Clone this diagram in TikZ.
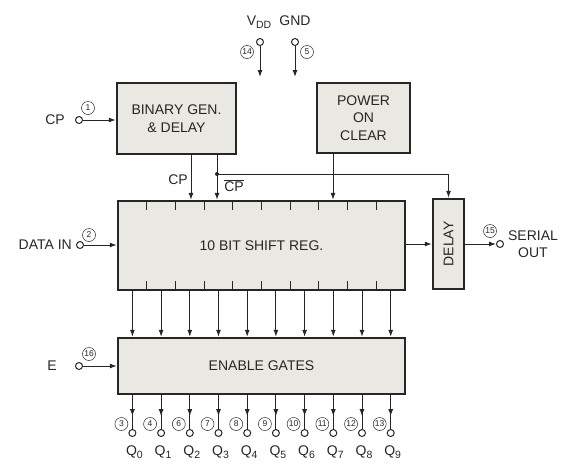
\documentclass[tikz,border=0pt]{standalone}
\usepackage{fontspec}
\setmainfont{Liberation Sans}
\usetikzlibrary{arrows.meta,decorations.markings}
\definecolor{chipgray}{RGB}{234,232,226}
\definecolor{inkdark}{RGB}{40,38,36}
\newcommand{\lowsub}[1]{\raisebox{-3.5pt}{\fontsize{10.5}{11}\selectfont #1}}

\begin{document}
\begin{tikzpicture}[x=1pt,y=-1pt, inkdark,
  block/.style={draw, line width=2.4pt, fill=chipgray, align=center, inner sep=0pt,
    font=\fontsize{14}{17.5}\selectfont},
  terminal/.style={circle, draw, line width=1pt, fill=white, inner sep=0pt, minimum size=7pt},
  pinnum/.style={circle, draw, line width=0.5pt, inner sep=0pt, minimum size=13pt,
    font=\fontsize{8.5}{9}\selectfont},
  lbl/.style={font=\fontsize{14}{16.5}\selectfont, inner sep=1pt},
  arr/.style={-{Latex[length=7pt,width=5pt]}, line width=1pt},
  midarr/.style={line width=1pt, postaction={decorate}, decoration={markings,
    mark=at position 0.62 with {\arrow{Latex[length=7pt,width=5pt]}}}}]
\useasboundingbox (0,0) rectangle (569,464);

% Blocks
\node[block, minimum width=119pt, minimum height=71pt] (bgen) at (176.5,118.5) {BINARY GEN.\\\& DELAY};
\node[block, minimum width=93pt, minimum height=70pt] (pclr) at (363.5,118) {POWER\\ON\\CLEAR};
\node[block, minimum width=287pt, minimum height=89pt] (sreg) at (261.5,245.5) {10 BIT SHIFT REG.};
\node[block, minimum width=31pt, minimum height=90pt] (dly) at (448.5,244) {\rotatebox{90}{DELAY}};
\node[block, minimum width=287pt, minimum height=56pt] (egate) at (261.5,366) {ENABLE GATES};

% Register cell ticks
\foreach \k in {1,...,9} {
  \draw[line width=1.1pt] (118+28.7*\k,201) -- ++(0,9);
  \draw[line width=1.1pt] (118+28.7*\k,290) -- ++(0,-9);
}

% Supply pins
\node[terminal] (vdd) at (260,42) {};
\node[terminal] (gnd) at (295,42) {};
\node[lbl] (vddlbl) at (259,22) {V\lowsub{DD}};
\node[lbl] (gndlbl) at (295,21) {GND};
\node[pinnum] (p14) at (247,52) {14};
\node[pinnum] (p5) at (307,52) {5};
\coordinate (vddend) at (260,77);
\coordinate (gndend) at (295,77);
\draw[arr] (vdd) -- (vddend);
\draw[arr] (gnd) -- (gndend);

% Inputs
\node[terminal] (cpin) at (79,120) {};
\node[lbl] (cplbl) at (55,120) {CP};
\node[pinnum] (p1) at (88,108) {1};
\draw[arr] (cpin) -- (cpin -| bgen.west);

\node[terminal] (din) at (80,245) {};
\node[lbl, anchor=east] (dinlbl) at (73,245) {DATA IN};
\node[pinnum] (p2) at (89,235) {2};
\draw[arr] (din) -- (din -| sreg.west);

\node[terminal] (ein) at (79,366) {};
\node[lbl] (elbl) at (52,366) {E};
\node[pinnum] (p16) at (89,354) {16};
\draw[arr] (ein) -- (ein -| egate.west);

% Clock lines
\coordinate (jn) at (217,174);
\draw[arr] (bgen.south -| 191,0) -- (sreg.north -| 191,0);
\node[lbl] (cpclk) at (178,180) {CP};
\draw[arr] (bgen.south -| jn) -- (sreg.north -| jn);
\fill (jn) circle (2pt);
\node[lbl] (cpbar) at (234,186) {$\overline{\hbox{CP}}$};
\draw[arr] (jn) -| (dly.north);
\draw[arr] (pclr.south -| 333,0) -- (sreg.north -| 333,0);

% Serial output
\draw[arr] (sreg.east |- dly.west) -- (dly.west);
\node[terminal] (sout) at (500,244) {};
\node[pinnum] (p15) at (490,231) {15};
\node[lbl, align=center] (soutlbl) at (533,244) {SERIAL\\OUT};
\draw[arr] (dly.east) -- (sout);

% Parallel outputs
\foreach \i/\pn in {0/3,1/4,2/6,3/7,4/8,5/9,6/10,7/11,8/12,9/13} {
  \pgfmathsetmacro\xq{132.4+28.7*\i}
  \draw[arr] (sreg.south -| \xq,0) -- (egate.north -| \xq,0);
  \node[terminal] (q\i) at (\xq,433) {};
  \draw[midarr] (egate.south -| q\i) -- (q\i);
  \node[pinnum] (pq\i) at (\xq-11,424) {\pn};
  \node[lbl] (ql\i) at (\xq+2,452) {Q\lowsub{\i}};
}
\end{tikzpicture}
\end{document}
